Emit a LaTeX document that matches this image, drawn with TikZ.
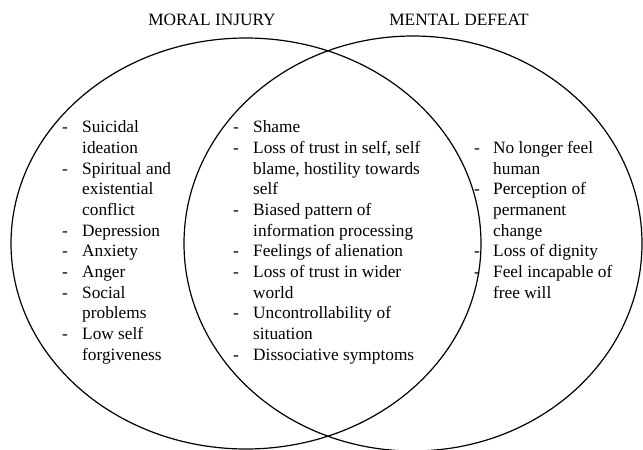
\documentclass[tikz,border=0pt]{standalone}
\usepackage{fontspec}
\setmainfont{Liberation Serif}
\usepackage{array}
\begin{document}
\begin{tikzpicture}[x=1pt,y=-1pt,
  col/.style={inner sep=0pt, anchor=north west, font=\fontsize{17.3}{20.7}\selectfont},
  ttl/.style={inner sep=0pt, anchor=base, font=\fontsize{17.3}{20}\selectfont},
  venn/.style={line width=1.2pt, black}]
\useasboundingbox (0,0) rectangle (643,450);
\begin{scope}
\clip (0,0) rectangle (643,450);
\draw[venn] (246,243.5) ellipse [x radius=235, y radius=205.5];
\draw[venn] (413,243.5) ellipse [x radius=229, y radius=207.5];
\end{scope}
\node[ttl] (t1) at (212,25.5) {MORAL INJURY};
\node[ttl] (t2) at (459,25.5) {MENTAL DEFEAT};
\node[col] (left) at (62,118) {\begin{tabular}{@{}p{20pt}@{}l@{}}
-& Suicidal\\
 & ideation\\
-& Spiritual and\\
 & existential\\
 & conflict\\
-& Depression\\
-& Anxiety\\
-& Anger\\
-& Social\\
 & problems\\
-& Low self\\
 & forgiveness
\end{tabular}};
\node[col] (mid) at (233,118) {\begin{tabular}{@{}p{20pt}@{}l@{}}
-& Shame\\
-& Loss of trust in self, self\\
 & blame, hostility towards\\
 & self\\
-& Biased pattern of\\
 & information processing\\
-& Feelings of alienation\\
-& Loss of trust in wider\\
 & world\\
-& Uncontrollability of\\
 & situation\\
-& Dissociative symptoms
\end{tabular}};
\node[col] (right) at (474,138.7) {\begin{tabular}{@{}p{19pt}@{}l@{}}
-& No longer feel\\
 & human\\
-& Perception of\\
 & permanent\\
 & change\\
-& Loss of dignity\\
-& Feel incapable of\\
 & free will
\end{tabular}};
\end{tikzpicture}
\end{document}
